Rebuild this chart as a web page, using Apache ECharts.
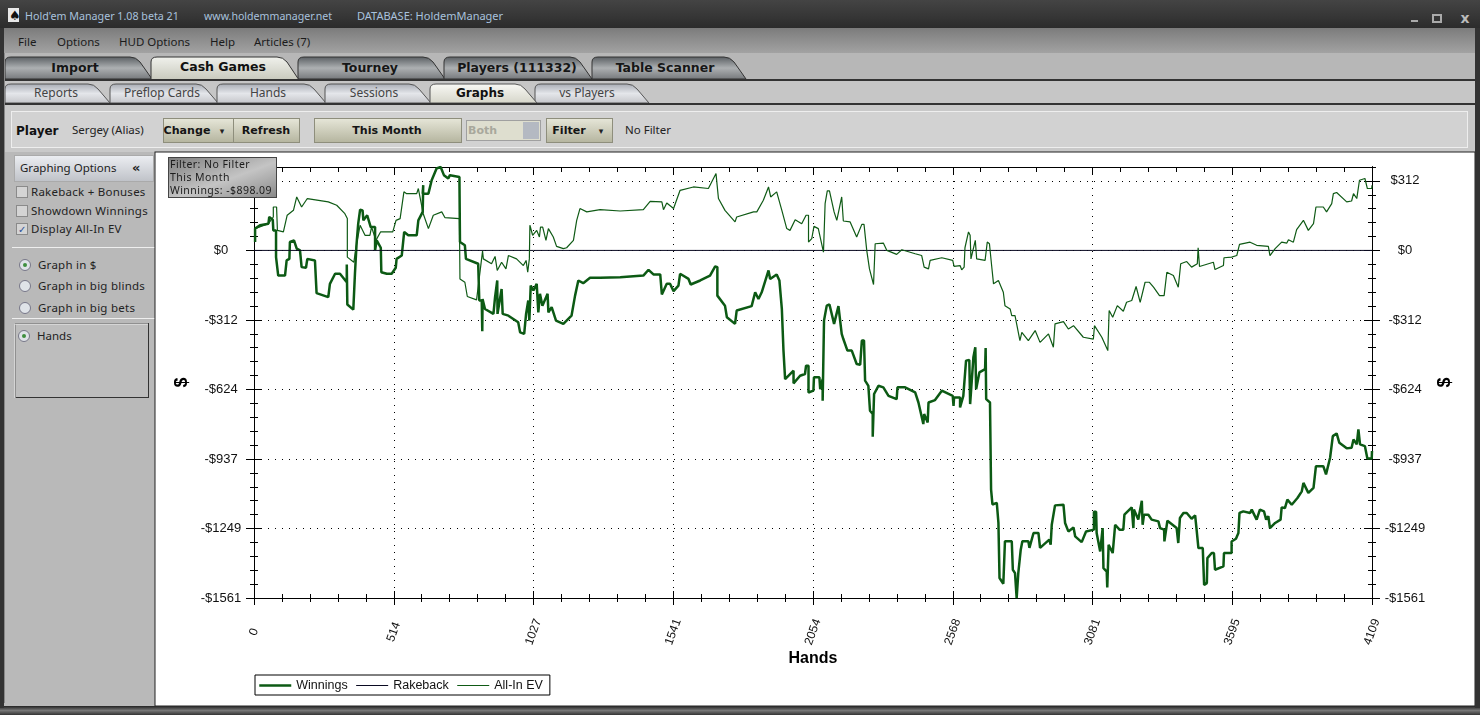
<!DOCTYPE html>
<html><head><meta charset="utf-8">
<script src="https://cdn.jsdelivr.net/npm/echarts@6/dist/echarts.min.js"></script>
<style>
html,body{margin:0;padding:0;width:1480px;height:715px;overflow:hidden;background:#b4b4b4}
#chrome{position:absolute;left:0;top:0}
#chart{position:absolute;left:0;top:0;width:1480px;height:715px}
#tip{position:absolute;left:168px;top:157px;width:106px;height:39px;border:1px solid #444;background:linear-gradient(160deg,#7f7f7f,#c4c4c4 55%,#8a8a8a);font:10.5px/13px "Noto Sans",sans-serif;color:#1c1c1c;padding:0 0 0 1px;box-sizing:content-box;white-space:nowrap;letter-spacing:.45px}
</style></head><body>
<svg id="chrome" width="1480" height="715" xmlns="http://www.w3.org/2000/svg"></svg>
<div id="chart"></div>
<div id="tip">Filter: No Filter<br>This Month<br>Winnings: -$898.09</div>
<script>
// ---------- chart data (hands, dollars) ----------
const seriesNames = ['Winnings', 'Rakeback', 'All-In EV'];
const xTickLabels = ['0', '514', '1027', '1541', '2054', '2568', '3081', '3595', '4109'];
const yTickValues = [-1561, -1248.8, -936.6, -624.4, -312.2, 0, 312.2];
const yTickLabels = ['-$1561', '-$1249', '-$937', '-$624', '-$312', '$0', '$312'];

const winningsHands = [4,4,22,53,56,69,71,81,81,89,114,120,130,132,147,157,169,175,191,196,224,230,273,279,298,316,341,341,343,365,371,377,383,390,399,402,416,429,445,445,451,466,468,488,506,521,524,543,552,567,598,604,620,622,
620,641,653,671,686,698,714,720,755,757,775,779,824,828,837,839,840,849,880,886,894,895,910,914,935,971,978,993,1000,1008,1012,1017,1027,1039,1045,1051,1060,1079,1082,1094,1110,1137,1167,1180,1192,1210,1235,1272,
1346,1431,1450,1468,1493,1499,1517,1529,1542,1560,1566,1597,1605,1640,1676,1695,1703,1703,1731,1738,1768,1774,1829,1842,1854,1866,1891,1897,1921,1931,1940,1946,1952,1983,1983,2007,2025,2029,2038,2038,2056,2058,2078,2081,2090,2090,2095,2105,2115,2132,2148,2160,2166,2181,2197,2215,2228,2234,2242,2246,2258,2264,2274,2274,2279,2295,2313,2332,2362,2365,2393,2430,2442,2460,2463,2476,2479,2503,2528,2568,2571,2573,2595,2595,2607,2617,2629,2632,2644,2651,2654,2666,2687,2689,2691,2705,2709,
2714,2730,2736,2740,2754,2760,2785,2789,2797,2803,2809,2818,2824,2846,2850,2865,2883,2889,2923,2928,2932,2944,2975,2981,2993,3012,3018,3042,3058,3087,3087,3095,3097,3110,3119,3122,3134,3136,3141,3156,3165,3181,3195,3199,3226,3232,3234,3250,3263,3266,3271,3287,3299,3324,3330,3345,3346,3357,3391,3397,3403,3416,3428,3446,3459,3465,3471,3487,3492,3502,3504,3520,3528,3532,3563,3565,3593,3593,3609,3618,3622,3636,3661,3667,3685,3697,3712,3720,3728,3734,3753,3773,3777,3789,3798,3814,3835,3851,3857,3863,3875,3894,3903,3930,3940,3955,3965,3979,3989,4016,4034,4041,4053,4059,4065,4083,4092,4108,4109];
const winningsValues = [38,98,113,120,150,138,90,90,-30,-113,-113,-45,-38,38,45,8,0,-75,-78,-38,-45,-192,-210,-150,-105,-105,-143,-63,-243,-266,-105,30,120,183,180,135,158,105,105,0,45,12,-98,-105,-105,-78,-38,-23,83,68,68,135,173,293,
255,255,315,368,375,338,323,338,330,38,23,-38,-60,-225,-225,-363,-218,-263,-285,-210,-135,-285,-173,-285,-293,-323,-368,-375,-285,-225,-315,-158,-180,-150,-278,-195,-248,-195,-278,-255,-315,-330,-293,-203,-135,-147,-123,-123,
-120,-113,-87,-108,-108,-198,-150,-150,-183,-158,-105,-128,-153,-135,-113,-72,-75,-203,-248,-300,-330,-270,-250,-188,-218,-188,-90,-128,-108,-135,-263,-450,-578,-540,-597,-563,-555,-518,-518,-638,-630,-570,-570,-623,-578,-675,-315,-248,-243,-330,-250,-375,-398,-450,-450,-510,-513,-405,-405,-585,-608,-720,-735,-837,-645,-608,-615,-653,-668,-615,-615,-638,-683,-780,-735,-773,-683,-672,-630,-653,-698,-660,-660,-705,-653,-495,-492,-690,-480,-435,-623,-548,-533,-438,-668,-683,-1074,
-1141,-1134,-1224,-1471,-1497,-1306,-1306,-1434,-1449,-1562,-1449,-1344,-1306,-1306,-1336,-1269,-1269,-1336,-1299,-1322,-1232,-1145,-1142,-1224,-1262,-1244,-1284,-1310,-1262,-1254,-1174,-1174,-1269,-1352,-1247,-1427,-1442,-1514,-1322,-1359,-1232,-1254,-1254,-1187,-1154,-1247,-1164,-1209,-1124,-1232,-1187,-1187,-1209,-1217,-1247,-1254,-1307,-1214,-1247,-1314,-1202,-1179,-1179,-1205,-1190,-1262,-1337,-1337,-1502,-1494,-1382,-1359,-1359,-1434,-1419,-1359,-1359,-1307,-1295,-1269,-1179,-1172,-1179,-1164,-1209,-1164,-1172,-1209,-1194,-1247,-1224,-1209,-1154,-1157,-1119,-1142,-1112,-1082,-1044,-1044,-1089,-1066,-969,-969,-1006,-931,-834,-822,-864,-889,-886,-849,-871,-804,-871,-879,-934,-934,-901];

const rakebackHands = [0, 4109];
const rakebackValues = [0, 0];

const evHands = [4,53,71,71,83,86,108,122,145,157,175,196,273,304,334,343,343,367,375,390,408,426,432,448,465,510,522,537,551,561,598,604,622,641,
659,690,702,755,757,775,784,818,840,843,873,886,894,910,926,935,965,990,1000,1006,1012,1014,1020,1024,1039,1049,1053,1061,1073,1082,1100,1112,1137,1149,1174,1186,1198,1223,1272,
1346,1431,1456,1499,1505,1517,1542,1566,1615,1670,1698,1703,1707,1731,1768,1774,1836,1848,1872,1891,1899,1921,1940,1958,1970,1989,2013,2029,2038,2038,2050,2058,2074,2093,2099,2107,2115,2132,2142,2160,2166,2191,2215,2234,2242,2252,2262,2277,2283,2313,2326,2362,2381,2430,2454,2463,2479,2485,2528,2568,2573,2595,2601,2610,2613,2626,2632,2635,2651,2656,2687,2695,2703,2711,2718,2736,2754,2760,2779,2785,2797,
2815,2822,2846,2871,2889,2920,2938,2944,2975,2993,3012,3048,3085,3089,3116,3138,3143,3156,3173,3195,3207,3226,3242,3257,3275,3291,3306,3328,3345,3355,3379,3397,3406,3428,3446,3467,3470,3475,3526,3532,3563,3565,3593,3612,3622,3661,3685,3728,3734,3753,3777,3796,3802,3820,3832,3857,3863,3875,3894,3903,3930,3942,3961,3967,3979,4016,4034,4041,4053,4063,4083,4092,4108,4109];
const evValues = [98,120,150,195,195,90,83,158,180,240,195,233,218,203,165,143,-30,-53,15,113,68,68,105,45,83,83,135,143,263,255,255,278,165,98,
158,173,147,143,-128,-143,-207,-222,-3,-38,-60,-27,-90,-53,-83,-23,-38,-68,-45,-98,-38,113,113,68,90,60,105,105,45,98,60,18,8,12,45,135,188,173,183,
177,183,220,218,183,213,188,270,285,278,345,345,233,180,128,150,173,173,225,285,240,263,180,98,90,138,120,158,158,38,53,108,98,-8,210,267,267,173,135,240,132,128,60,117,117,0,-83,-153,30,33,0,-18,3,-15,-23,-75,-83,-45,-33,-45,-72,-68,-87,-75,12,83,68,-38,45,-38,-45,38,30,-68,-150,-135,-188,-248,-263,-293,-293,
-405,-368,-405,-360,-413,-375,-435,-330,-320,-353,-338,-390,-398,-338,-390,-450,-270,-300,-248,-273,-233,-225,-162,-233,-143,-143,-165,-203,-203,-98,-113,-165,-60,-50,-75,-60,12,-72,-53,-86,-68,-33,-30,-23,27,37,23,18,-23,8,37,33,48,37,93,135,138,90,120,195,195,173,210,255,260,218,222,255,233,315,323,278,278,293];

const zip = (a, b) => a.map((v, i) => [v, b[i]]);

// ---------- axes ----------
const X_MAX = 4109, X_STEP = X_MAX / 8, Y_MIN = -1561, Y_STEP = 312.2, Y_MINOR = 62.44, Y_MAX = 374.64;
const FONT = '"Liberation Sans", Arial, sans-serif';
const INK = '#111';
const C_WIN = '#0c5a14', C_RAKE = '#0a0a22', C_EV = '#0f5a15';
const line = { show: true, onZero: false, lineStyle: { color: '#000', width: 1 } };
const noLabel = { show: false };

function xAx(position, inside, withLabels) {
  const a = {
    type: 'value', position, min: 0, max: X_MAX, interval: X_STEP,
    axisLine: line,
    axisTick: { show: true, inside, length: 7, lineStyle: { color: '#000' } },
    minorTick: { show: true, splitNumber: 5, length: inside && position === 'top' ? 5 : 4, lineStyle: { color: '#000' } },
    splitLine: { show: false }, minorSplitLine: { show: false }, axisLabel: noLabel
  };
  if (withLabels) {
    a.splitLine = { show: true, lineStyle: { type: [1, 6], color: '#000', width: 1 } };
    a.axisLabel = { show: true, rotate: 70, align: 'center', verticalAlign: 'middle', margin: 34, hideOverlap: false, showMinLabel: true, showMaxLabel: true,
      color: INK, fontFamily: FONT, fontSize: 12,
      formatter: v => xTickLabels[Math.round(v / X_STEP)] };
    a.name = 'Hands'; a.nameLocation = 'middle'; a.nameGap = 53; a.nameMoveOverlap = false;
    a.nameTextStyle = { fontFamily: FONT, fontWeight: 'bold', fontSize: 16, color: '#000' };
  }
  return a;
}
function yAx(position, inside, major, withLabels) {
  const a = {
    type: 'value', position, min: Y_MIN, max: Y_MAX, interval: major ? Y_STEP : Y_MINOR,
    axisLine: line,
    axisTick: { show: true, inside, length: major ? 8 : 4, lineStyle: { color: '#000' } },
    splitLine: { show: false }, axisLabel: noLabel
  };
  if (major) a.axisTick.customValues = yTickValues;
  if (withLabels) {
    a.splitLine = { show: position === 'left', lineStyle: { type: [1, 6], color: '#000', width: 1 } };
    a.axisLabel = { show: true, customValues: yTickValues, align: 'center', margin: 33,
      color: INK, fontFamily: FONT, fontSize: 13,
      formatter: v => yTickLabels[yTickValues.indexOf(v)] };
    a.name = '$'; a.nameLocation = 'middle'; a.nameGap = position === 'left' ? 63 : 64; a.nameRotate = 90; a.nameMoveOverlap = false;
    a.nameTextStyle = { fontFamily: FONT, fontWeight: 'bold', fontSize: 18, color: '#000' };
  }
  return a;
}

const chart = echarts.init(document.getElementById('chart'), null, { renderer: 'canvas' });
chart.setOption({
  animation: false,
  backgroundColor: 'transparent',
  grid: { left: 254, top: 167, width: 1118, height: 431, containLabel: false },
  xAxis: [xAx('bottom', false, true), xAx('bottom', true, false), xAx('top', true, false)],
  yAxis: [
    yAx('left', false, true, true), yAx('left', true, true, false), yAx('left', false, false, false), yAx('left', true, false, false),
    yAx('right', false, true, true), yAx('right', true, true, false), yAx('right', false, false, false), yAx('right', true, false, false)
  ],
  legend: {
    left: 255, top: 675, orient: 'horizontal',
    data: [
      { name: seriesNames[0], lineStyle: { width: 2.5, color: C_WIN } },
      { name: seriesNames[1], lineStyle: { width: 1, color: C_RAKE } },
      { name: seriesNames[2], lineStyle: { width: 1, color: C_EV } }
    ],
    itemWidth: 32, itemHeight: 2, itemGap: 8, padding: [4, 7, 3, 3],
    itemStyle: { opacity: 0 },
    backgroundColor: '#fff', borderColor: '#000', borderWidth: 1, borderRadius: 0,
    textStyle: { fontFamily: FONT, fontSize: 12.5, color: INK }
  },
  series: [
    { name: seriesNames[0], type: 'line', showSymbol: false, symbol: 'none', data: zip(winningsHands, winningsValues), lineStyle: { color: C_WIN, width: 2.5 }, itemStyle: { color: C_WIN }, z: 3 },
    { name: seriesNames[1], type: 'line', showSymbol: false, symbol: 'none', data: zip(rakebackHands, rakebackValues), lineStyle: { color: C_RAKE, width: 1 }, itemStyle: { color: C_RAKE }, z: 4 },
    { name: seriesNames[2], type: 'line', showSymbol: false, symbol: 'none', data: zip(evHands, evValues), lineStyle: { color: C_EV, width: 1.2 }, itemStyle: { color: C_EV }, z: 5 }
  ]
});

// ---------- application window around the chart ----------
const UI = '"Noto Sans", sans-serif', BOLD = '"DejaVu Sans", sans-serif';
let s = `<defs>
<linearGradient id="title" x1="0" y1="0" x2="0" y2="1"><stop offset="0" stop-color="#444"/><stop offset="1" stop-color="#2c2c2c"/></linearGradient>
<linearGradient id="menu" x1="0" y1="0" x2="0" y2="1"><stop offset="0" stop-color="#7c7c7c"/><stop offset="1" stop-color="#a2a2a2"/></linearGradient>
<linearGradient id="tab" x1="0" y1="0" x2="0" y2="1"><stop offset="0" stop-color="#5b6064"/><stop offset=".5" stop-color="#adb0b2"/><stop offset="1" stop-color="#777a7d"/></linearGradient>
<linearGradient id="tabOn" x1="0" y1="0" x2="0" y2="1"><stop offset="0" stop-color="#f0f1ec"/><stop offset="1" stop-color="#c8c9bd"/></linearGradient>
<linearGradient id="sub" x1="0" y1="0" x2="0" y2="1"><stop offset="0" stop-color="#a9adb5"/><stop offset=".5" stop-color="#e4e6ea"/><stop offset="1" stop-color="#c6c7cb"/></linearGradient>
<linearGradient id="subOn" x1="0" y1="0" x2="0" y2="1"><stop offset="0" stop-color="#f8f8f4"/><stop offset="1" stop-color="#d6d6ca"/></linearGradient>
<linearGradient id="btn" x1="0" y1="0" x2="0" y2="1"><stop offset="0" stop-color="#e6e6d8"/><stop offset="1" stop-color="#b5b59f"/></linearGradient>
<linearGradient id="hdr" x1="0" y1="0" x2="0" y2="1"><stop offset="0" stop-color="#eceef2"/><stop offset="1" stop-color="#bfc2c8"/></linearGradient>
<linearGradient id="bot" x1="0" y1="0" x2="0" y2="1"><stop offset="0" stop-color="#222"/><stop offset=".5" stop-color="#777"/><stop offset="1" stop-color="#333"/></linearGradient>
</defs>`;
const rect = (x, y, w, h, fill, stroke) => `<rect x="${x}" y="${y}" width="${w}" height="${h}" fill="${fill}"${stroke ? ` stroke="${stroke}"` : ''}/>`;
const text = (x, y, t, o = {}) => `<text x="${x}" y="${y}" font-family='${o.f || UI}' font-size="${o.s || 11.5}" font-weight="${o.b ? 'bold' : 'normal'}" fill="${o.c || '#222'}" text-anchor="${o.a || 'start'}"${o.l ? ` letter-spacing="${o.l}"` : ''}>${t}</text>`;
const tabPath = (x0, x1, yt, yb) => `M${x0} ${yb}L${x0} ${yt + 5}Q${x0} ${yt} ${x0 + 6} ${yt}L${x1 - 22} ${yt}Q${x1 - 16} ${yt} ${x1 - 12} ${yt + 5}L${x1} ${yb}Z`;

s += rect(0, 0, 1480, 715, '#b4b4b4');
s += rect(0, 0, 1480, 28, 'url(#title)');
s += rect(8, 8, 11, 14, '#e8e8e8') + text(9, 20, '♠', { s: 13, c: '#111', f: BOLD });
s += text(25, 20, "Hold'em Manager 1.08 beta 21", { c: '#a9c2dd', s: 10.7 });
s += text(204, 20, 'www.holdemmanager.net', { c: '#a9c2dd', s: 10.6 });
s += text(357, 20, 'DATABASE: HoldemManager', { c: '#a9c2dd', s: 11 });
s += rect(1411, 20, 7, 2, '#aaa') + `<rect x="1433" y="15" width="8" height="7" fill="none" stroke="#aaa" stroke-width="2"/>`;
s += text(1465, 23, 'x', { c: '#bbb', s: 14, b: 1, a: 'middle', f: BOLD });
s += rect(0, 28, 1480, 25, 'url(#menu)');
[['File', 18], ['Options', 57], ['HUD Options', 119], ['Help', 210], ['Articles (7)', 254]].forEach(m => { s += text(m[1], 46, m[0], { s: 11.5, c: '#1b1b1b' }); });
s += rect(0, 53, 1480, 27, '#b7b7b7');
[['Import', 5, 152, 75], ['Tourney', 298, 445, 370], ['Players (111332)', 444, 592, 517], ['Table Scanner', 592, 746, 665]].forEach(t => {
  s += `<path d="${tabPath(t[1], t[2], 57, 79)}" fill="url(#tab)" stroke="#333"/>` + text(t[3], 72, t[0], { f: BOLD, s: 12.5, b: 1, a: 'middle', c: '#161616' });
});
s += `<path d="${tabPath(151, 299, 57, 80)}" fill="url(#tabOn)" stroke="#333"/>` + text(223, 71, 'Cash Games', { f: BOLD, s: 12.5, b: 1, a: 'middle', c: '#111' });
s += rect(0, 79, 1480, 2, '#333');
s += rect(0, 81, 1480, 24, '#c6c6c6');
[['Reports', 5, 110, 56], ['Preflop Cards', 110, 218, 162], ['Hands', 217, 326, 268], ['Sessions', 325, 431, 374], ['vs Players', 535, 649, 587]].forEach(t => {
  s += `<path d="${tabPath(t[1], t[2], 84, 103)}" fill="url(#sub)" stroke="#555"/>` + text(t[3], 97, t[0], { s: 12, a: 'middle', c: '#444' });
});
s += `<path d="${tabPath(430, 537, 84, 103)}" fill="url(#subOn)" stroke="#555"/>` + text(480, 97, 'Graphs', { f: BOLD, s: 12, b: 1, a: 'middle', c: '#111' });
s += rect(0, 103, 1480, 2, '#333');
s += rect(0, 105, 1480, 47, '#c9c9c9');
s += rect(11.5, 111.5, 1456, 36, '#d2d2d2', '#eee');
s += text(16, 135, 'Player', { f: BOLD, s: 12, b: 1, c: '#111' }) + text(72, 134, 'Sergey (Alias)', { s: 11.5 });
[[163, 70, 'Change', 187, 1], [233, 66, 'Refresh', 266, 0], [314, 147, 'This Month', 387, 0], [546, 66, 'Filter', 569, 1]].forEach(b => {
  s += rect(b[0] + .5, 118.5, b[1], 24, 'url(#btn)', '#8e8e7c') + text(b[3], 134, b[2], { f: BOLD, s: 11.1, b: 1, a: 'middle', c: '#151515' });
  if (b[4]) s += text(b[0] + b[1] - 11, 134, '▾', { s: 9, a: 'middle', c: '#222', f: BOLD });
});
s += rect(466.5, 120.5, 74, 20, '#dedecf', '#a0a0a0') + rect(523, 122, 16, 17, '#b4b9c2') + text(468, 134, 'Both', { f: BOLD, s: 11, b: 1, c: '#a8a89c' });
s += text(625, 134, 'No Filter', { s: 11.5 });
// left panel
s += rect(0, 152, 155, 554, '#b9b9b9');
s += rect(14.5, 155.5, 139, 26, 'url(#hdr)', '#aaa') + text(20, 172, 'Graphing Options', { s: 11.5 }) + text(132, 172, '«', { s: 13, b: 1, f: BOLD });
[['Rakeback + Bonuses', 192, 0], ['Showdown Winnings', 211, 0], ['Display All-In EV', 229, 1]].forEach(c => {
  s += rect(16.5, c[1] - 5.5, 11, 11, '#d4d4d4', '#8a8a8a') + text(31, c[1] + 4, c[0], { s: 11.5, l: .25 });
  if (c[2]) s += text(18, c[1] + 4, '✓', { s: 10, c: '#2a4f9a', f: BOLD });
});
s += rect(12, 247, 143, 1, '#eee') + rect(12, 318, 143, 1, '#eee');
const radio = (x, y, on) => `<circle cx="${x}" cy="${y}" r="5.5" fill="#dfe3e8" stroke="#778"/>` + (on ? `<circle cx="${x}" cy="${y}" r="2" fill="#3f8f3f"/>` : '');
[['Graph in $', 265, 1], ['Graph in big blinds', 286, 0], ['Graph in big bets', 308, 0]].forEach(r => { s += radio(25, r[1], r[2]) + text(38, r[1] + 4, r[0], { s: 11.5, l: .25 }); });
s += `<rect x="15.5" y="323.5" width="133" height="74" fill="#bdbdbd" stroke="#333"/><path d="M15 398V324H148" fill="none" stroke="#eee"/>`;
s += radio(24, 336, 1) + text(37, 340, 'Hands', { s: 11.5 });
// chart panel and outer frame
s += rect(155, 152, 1320, 554, '#fff', '#222');
s += rect(0, 706, 1480, 9, 'url(#bot)') + rect(0, 28, 4, 680, '#333') + rect(1475, 28, 5, 680, '#333') + rect(4, 53, 1, 650, '#888');
document.getElementById('chrome').innerHTML = s;
</script>
</body></html>
